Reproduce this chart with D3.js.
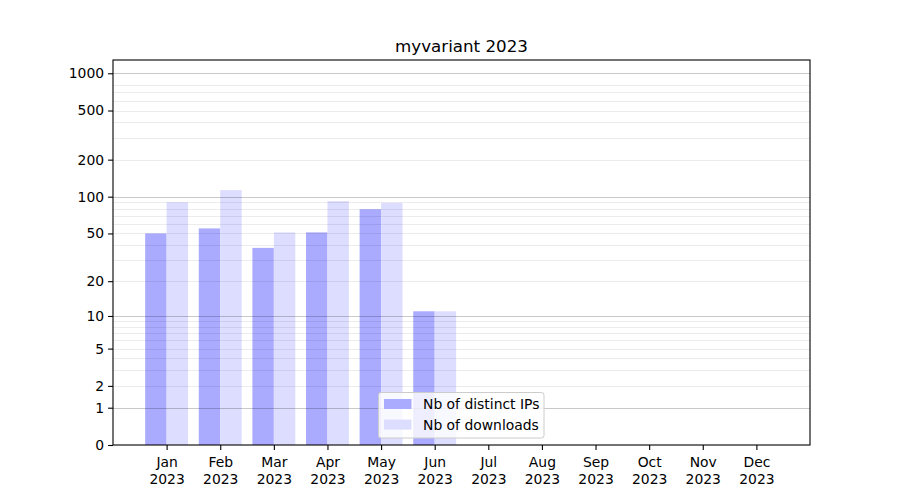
<!DOCTYPE html>
<html>
<head>
<meta charset="utf-8">
<script src="https://cdn.jsdelivr.net/npm/d3@7"></script>
<style>
  body { margin: 0; background: #fff; }
  svg { display: block; font-family: "DejaVu Sans", sans-serif; }
</style>
</head>
<body>
<svg id="chart" width="900" height="500"></svg>
<script>
const title = "myvariant 2023";
const months = ["Jan", "Feb", "Mar", "Apr", "May", "Jun", "Jul", "Aug", "Sep", "Oct", "Nov", "Dec"];
const yearLabel = "2023";
const distinctIPs = [50, 55, 38, 51, 79, 11, null, null, null, null, null, null];
const downloads = [90, 113, 51, 92, 89, 11, null, null, null, null, null, null];
const yMajorTicks = [0, 1, 2, 5, 10, 20, 50, 100, 200, 500, 1000];
const yDarkGrid = [1, 10, 100, 1000];
const yLightGrid = [2, 3, 4, 5, 6, 7, 8, 9, 20, 30, 40, 50, 60, 70, 80, 90, 200, 300, 400, 500, 600, 700, 800];
const seriesNames = ["Nb of distinct IPs", "Nb of downloads"];
const seriesColors = ["#aaaaff", "#ddddff"];

const W = 900, H = 500;
const m = { left: 113, right: 90, top: 60, bottom: 55 };
const pw = W - m.left - m.right, ph = H - m.top - m.bottom;

const svg = d3.select("#chart");
const g = svg.append("g").attr("transform", `translate(${m.left},${m.top})`);

const x = d3.scaleLinear().domain([0, 13]).range([0, pw]);
const y = d3.scaleSymlog().constant(1).domain([0, 1280]).range([ph, 0]);
const bw = x(0.4) - x(0);

// bars
const series = [distinctIPs, downloads];
series.forEach((vals, si) => {
  g.append("g").selectAll("rect")
    .data(vals.map((v, i) => ({ v, i })).filter(d => d.v != null))
    .join("rect")
    .attr("x", d => x(d.i + 1) + (si === 0 ? -bw : 0))
    .attr("width", bw)
    .attr("y", d => y(d.v))
    .attr("height", d => y(0) - y(d.v))
    .attr("fill", seriesColors[si]);
});

// gridlines on top
g.append("g").selectAll("line").data(yLightGrid).join("line")
  .attr("x1", 0).attr("x2", pw)
  .attr("y1", d => Math.round(y(d)) + 0.5).attr("y2", d => Math.round(y(d)) + 0.5)
  .attr("stroke", "#000").attr("stroke-opacity", 0.075).attr("stroke-width", 1);
g.append("g").selectAll("line").data(yDarkGrid).join("line")
  .attr("x1", 0).attr("x2", pw)
  .attr("y1", d => Math.round(y(d)) + 0.5).attr("y2", d => Math.round(y(d)) + 0.5)
  .attr("stroke", "#000").attr("stroke-opacity", 0.21).attr("stroke-width", 1);

// axes
const yAxis = d3.axisLeft(y).tickValues(yMajorTicks).tickFormat(d3.format("d")).tickSize(4.9).tickPadding(4);
const ya = g.append("g").call(yAxis);
const xAxis = d3.axisBottom(x).tickValues(d3.range(1, 13)).tickSize(4.9).tickPadding(4).tickFormat(() => "");
const xa = g.append("g").attr("transform", `translate(0,${ph})`).call(xAxis);
[ya, xa].forEach(a => {
  a.select(".domain").remove();
  a.selectAll("line").attr("stroke", "#000").attr("stroke-width", 1.1);
  a.selectAll("text").attr("font-size", 13.9).attr("fill", "#000").attr("font-family", "DejaVu Sans");
});
xa.selectAll(".tick").each(function (d) {
  const t = d3.select(this).select("text");
  t.attr("y", 9).attr("dy", 0);
  t.append("tspan").attr("x", 0).attr("dy", "0.95em").text(months[d - 1]);
  t.append("tspan").attr("x", 0).attr("dy", "1.18em").text(yearLabel);
});

// frame
g.append("rect").attr("x", 0).attr("y", 0).attr("width", pw).attr("height", ph)
  .attr("fill", "none").attr("stroke", "#000").attr("stroke-width", 1.1);

// title
svg.append("text").attr("x", m.left + pw / 2).attr("y", 52)
  .attr("text-anchor", "middle").attr("font-size", 16.7).attr("fill", "#000").text(title);

// legend
const lg = svg.append("g").attr("transform", "translate(378.5,392.5)");
lg.append("rect").attr("width", 165.5).attr("height", 45.5).attr("rx", 2.5)
  .attr("fill", "#fff").attr("fill-opacity", 0.8).attr("stroke", "#cccccc").attr("stroke-width", 1);
seriesNames.forEach((name, i) => {
  lg.append("rect").attr("x", 5.5).attr("y", 6.5 + i * 20.6).attr("width", 27.5).attr("height", 10)
    .attr("fill", seriesColors[i]);
  lg.append("text").attr("x", 44.5).attr("y", 16.5 + i * 20.6).attr("font-size", 13.9).attr("fill", "#000").text(name);
});
</script>
</body>
</html>
